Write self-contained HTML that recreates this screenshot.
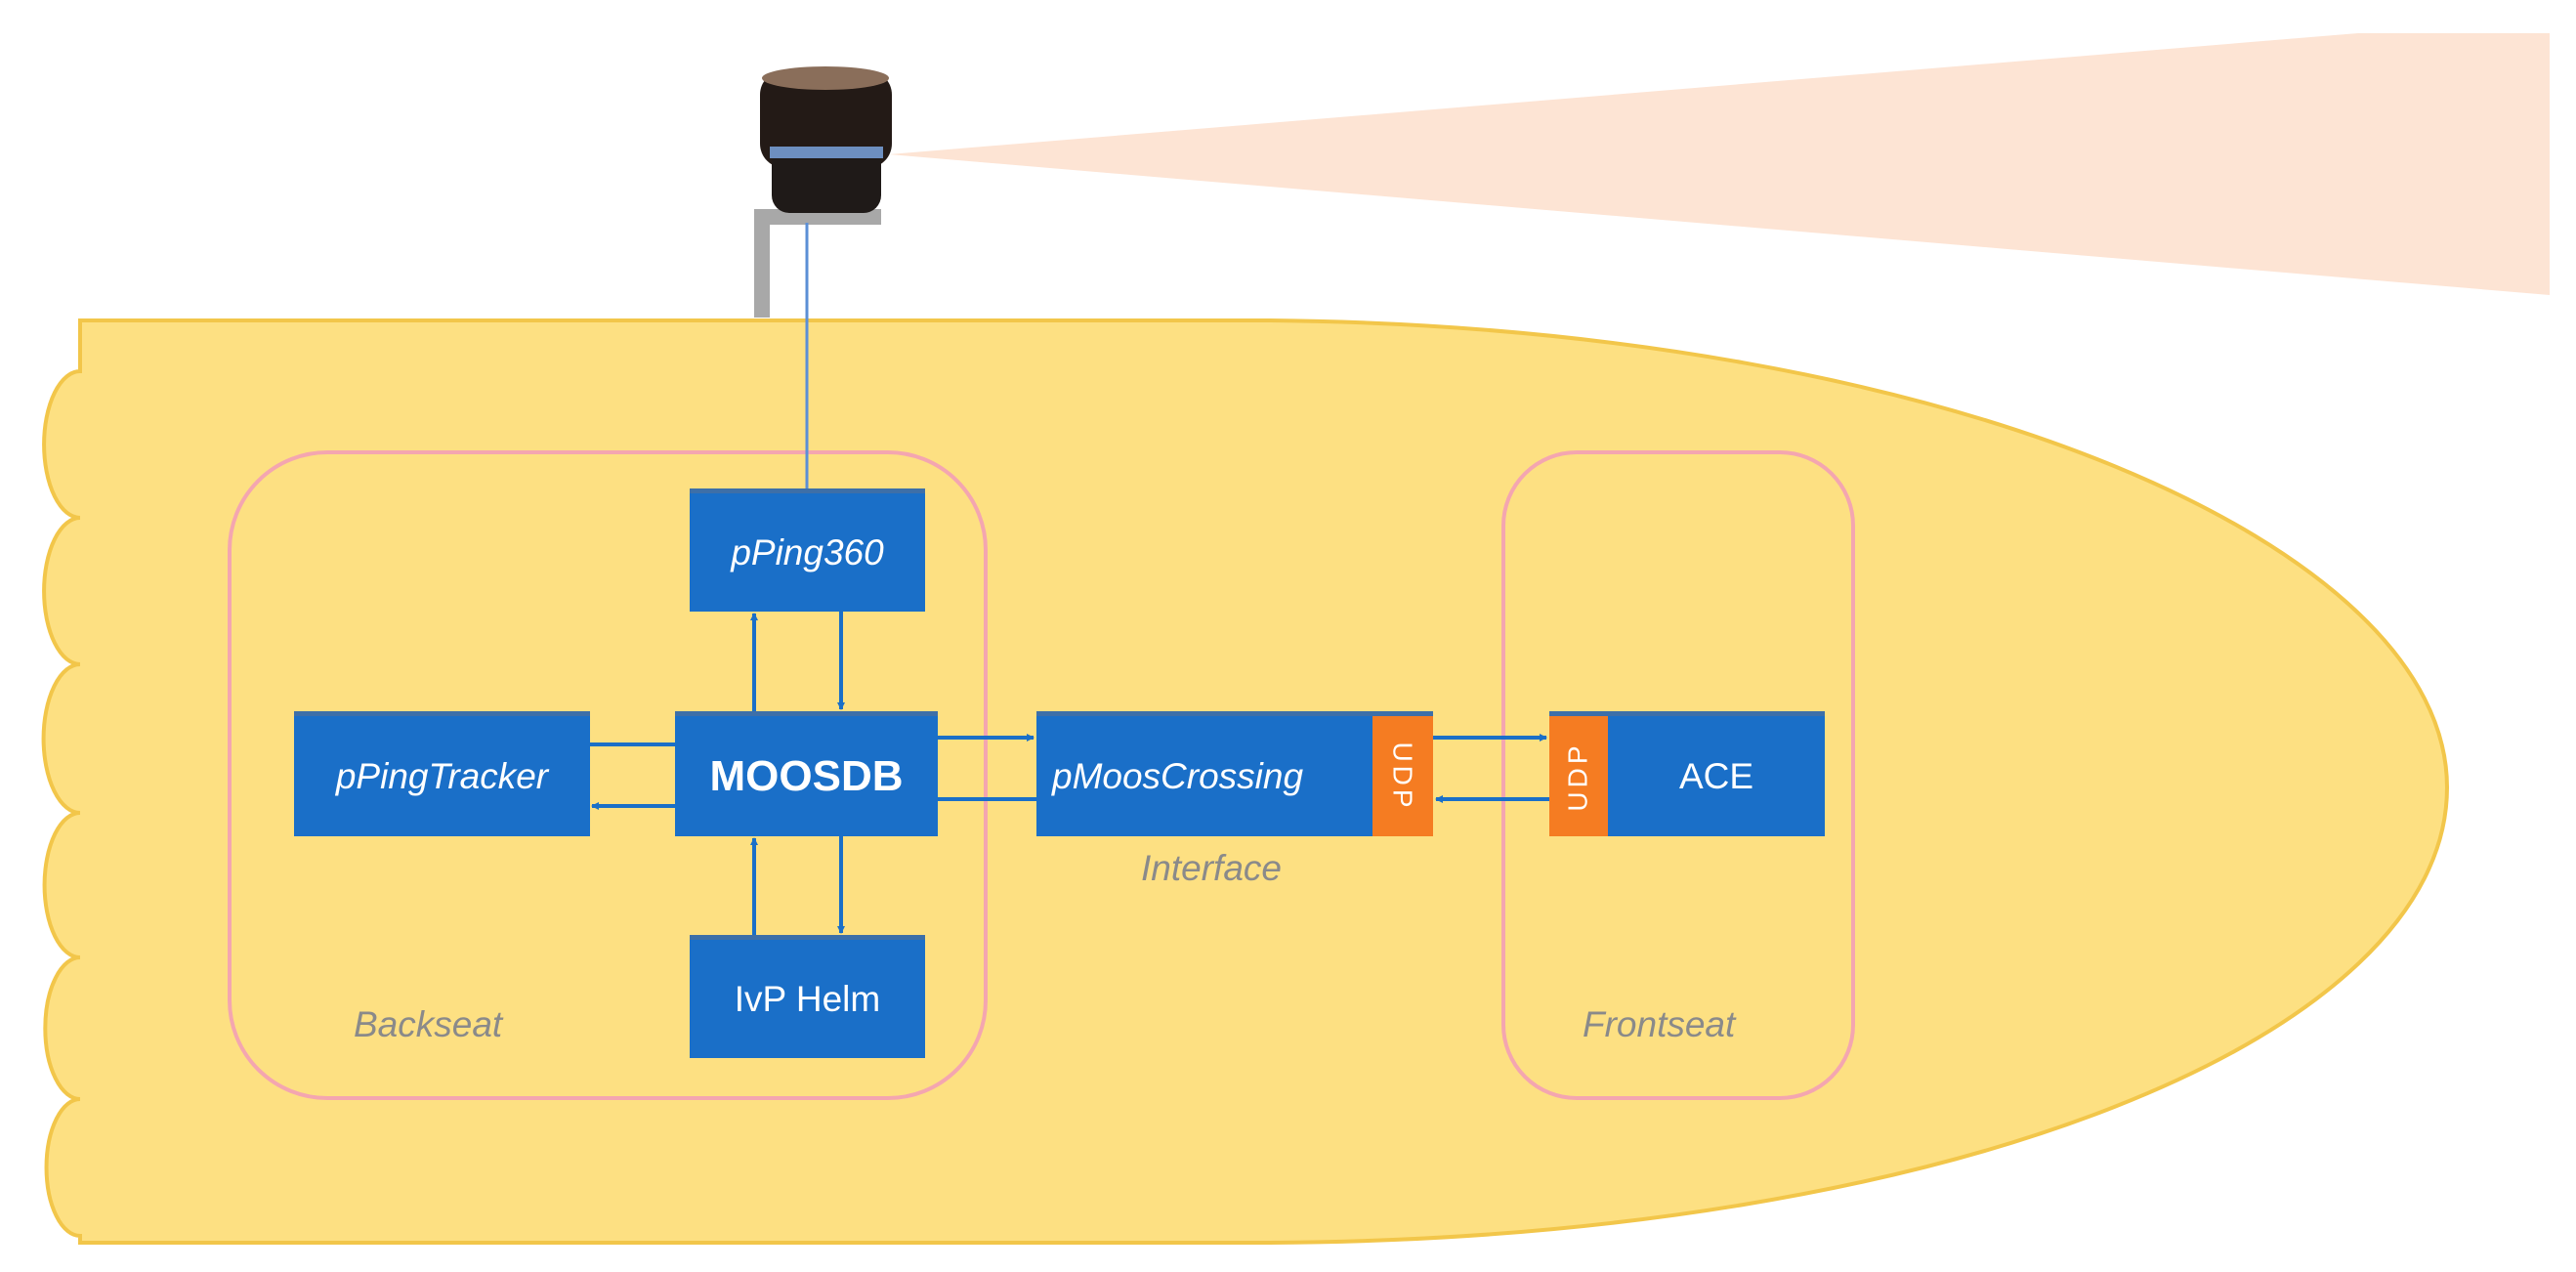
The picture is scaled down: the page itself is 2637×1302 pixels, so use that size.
<!DOCTYPE html>
<html><head><meta charset="utf-8"><style>
html,body{margin:0;padding:0;background:#fff;}
body{width:2637px;height:1302px;position:relative;overflow:hidden;font-family:"Liberation Sans",sans-serif;}
.box{position:absolute;background:#1a6fc8;color:#fff;display:flex;align-items:center;justify-content:center;font-size:37px;border-top:5px solid #3d6fa8;box-sizing:border-box;}
.it{font-style:italic;}
.org{position:absolute;background:#f57c22;color:#fff;display:flex;align-items:center;justify-content:center;font-size:28px;letter-spacing:4px;}
.lbl{position:absolute;color:#8a8a8a;font-style:italic;font-size:37px;}
</style></head><body>
<svg width="2637" height="1302" style="position:absolute;left:0;top:0">
<defs><marker id="a" markerWidth="8" markerHeight="8" refX="7" refY="4" orient="auto" markerUnits="userSpaceOnUse"><path d="M0,0 L8,4 L0,8 z" fill="#1a6fc8"/></marker></defs>
<polygon points="910,158 2414,34 2610,34 2610,302" fill="#fde4d4"/>
<path d="M82,328 L1300,328 C2000,335 2505,560 2505,806 C2505,1060 2000,1268 1300,1272 L82,1272
 L82,1265 A32,65 0 0 1 82,1125 A32,65 0 0 1 82,980 A32,65 0 0 1 82,832 A32,65 0 0 1 82,680 A32,65 0 0 1 82,530 A32,65 0 0 1 82,380 L82,328 z" fill="#fde082" stroke="#f2c64a" stroke-width="4"/>
<rect x="235" y="463" width="774" height="661" rx="100" fill="none" stroke="#f4a6b0" stroke-width="4"/>
<rect x="1539" y="463" width="358" height="661" rx="75" fill="none" stroke="#f4a6b0" stroke-width="4"/>
<path d="M780,325 L780,222 L902,222" fill="none" stroke="#a8a8a8" stroke-width="16"/>
<line x1="826" y1="228" x2="826" y2="500" stroke="#5b8fd6" stroke-width="3"/>
<g stroke="#1a6fc8" stroke-width="4" fill="none">
<line x1="772" y1="728" x2="772" y2="628" marker-end="url(#a)"/>
<line x1="861" y1="626" x2="861" y2="726" marker-end="url(#a)"/>
<line x1="861" y1="856" x2="861" y2="955" marker-end="url(#a)"/>
<line x1="772" y1="957" x2="772" y2="858" marker-end="url(#a)"/>
<line x1="604" y1="762" x2="691" y2="762"/>
<line x1="691" y1="825" x2="606" y2="825" marker-end="url(#a)"/>
<line x1="960" y1="755" x2="1058" y2="755" marker-end="url(#a)"/>
<line x1="960" y1="818" x2="1061" y2="818"/>
<line x1="1467" y1="755" x2="1583" y2="755" marker-end="url(#a)"/>
<line x1="1586" y1="818" x2="1470" y2="818" marker-end="url(#a)"/>
</g>
<rect x="778" y="72" width="135" height="100" rx="25" fill="#231a16"/>
<ellipse cx="845" cy="80" rx="65" ry="12" fill="#8a6e5a"/>
<rect x="790" y="150" width="112" height="68" rx="18" fill="#1f1a18"/>
<rect x="788" y="150" width="116" height="12" fill="#6d8fc0"/>
</svg>
<div class="box it" style="left:706px;top:500px;width:241px;height:126px">pPing360</div>
<div class="box" style="left:691px;top:728px;width:269px;height:128px;font-weight:bold;font-size:44px">MOOSDB</div>
<div class="box it" style="left:301px;top:728px;width:303px;height:128px">pPingTracker</div>
<div class="box" style="left:706px;top:957px;width:241px;height:126px">IvP Helm</div>
<div class="box it" style="left:1061px;top:728px;width:406px;height:128px;justify-content:flex-start;padding-left:16px">pMoosCrossing</div>
<div class="org" style="left:1405px;top:733px;width:62px;height:123px"><span style="transform:rotate(90deg);display:inline-block">UDP</span></div>
<div class="box" style="left:1586px;top:728px;width:282px;height:128px;padding-left:60px">ACE</div>
<div class="org" style="left:1586px;top:733px;width:60px;height:123px"><span style="transform:rotate(-90deg);display:inline-block">UDP</span></div>
<div class="lbl" style="left:362px;top:1028px">Backseat</div>
<div class="lbl" style="left:1168px;top:868px">Interface</div>
<div class="lbl" style="left:1620px;top:1028px">Frontseat</div>
</body></html>
